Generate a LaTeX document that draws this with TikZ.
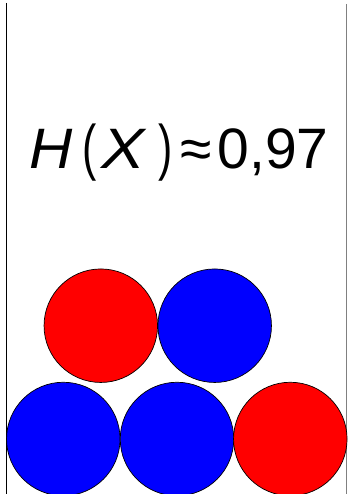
\documentclass[tikz,border=0pt]{standalone}
\usepackage{fontspec}
\setmainfont{Liberation Sans}
\begin{document}
\begin{tikzpicture}[x=1pt,y=-1pt,
  ball/.style={circle,draw=black,line width=0.7pt,minimum size=113.5pt,inner sep=0pt},
  redball/.style={ball,fill=red},
  blueball/.style={ball,fill=blue},
  txt/.style={anchor=base west,inner sep=0pt,font=\fontsize{57}{64}\selectfont}]
\useasboundingbox (0,0) rectangle (351,494);
\coordinate (lt) at (6.5,3);
\coordinate (lb) at (6.5,494);
\coordinate (rt) at (346.5,4);
\coordinate (rb) at (346.5,494);
\draw[line width=1.2pt,black] (lt) -- (lb);
\draw[line width=1.2pt,black!50] (rt) -- (rb);
\node[txt] (h) at (29,169) {\scalebox{1.05}[1]{\itshape H}};
\node[txt] (po) at (82,169) {\scalebox{0.75}[1.08]{(}};
\node[txt] (x) at (101,169) {\scalebox{1.14}[1]{\itshape X}};
\node[txt] (pc) at (158,169) {\scalebox{0.75}[1.08]{)}};
\node[txt] (ap) at (180,169) {≈};
\node[txt] (v) at (217.5,169) {0,97};
\node[redball] (r1) at (100.8,325.7) {};
\node[blueball] (b1) at (214.7,325.7) {};
\node[blueball] (b2) at (63.3,439) {};
\node[blueball] (b3) at (177,439) {};
\node[redball] (r2) at (290.3,439) {};
\end{tikzpicture}
\end{document}
